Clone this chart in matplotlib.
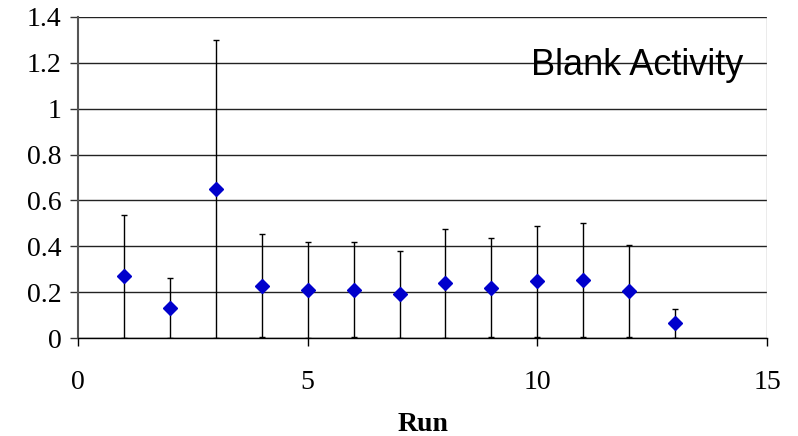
import matplotlib
matplotlib.use("Agg")
import matplotlib.pyplot as plt
from matplotlib.ticker import MultipleLocator, FuncFormatter

runs = [1, 2, 3, 4, 5, 6, 7, 8, 9, 10, 11, 12, 13]
activity = [0.270, 0.132, 0.650, 0.228, 0.209, 0.211, 0.190, 0.239, 0.219, 0.247, 0.253, 0.205, 0.065]
error = [0.268, 0.131, 0.648, 0.224, 0.208, 0.208, 0.188, 0.238, 0.216, 0.243, 0.247, 0.202, 0.063]

fig = plt.figure(figsize=(7.98, 4.36), dpi=100)
ax = fig.add_axes([78 / 798, 1 - 338 / 436, (767 - 78) / 798, (338 - 17) / 436])

ax.set_xlim(0, 15)
ax.set_ylim(0, 1.4)
ax.yaxis.set_major_locator(MultipleLocator(0.2))
ax.xaxis.set_major_locator(MultipleLocator(5))

ax.grid(axis="y", color="#222222", linewidth=1.0, zorder=0)
ax.set_axisbelow(True)

ax.errorbar(runs, activity, yerr=error, fmt="D", color="#0000CC", markersize=7,
            ecolor="black", elinewidth=1.0, capsize=2.5, capthick=1.0, zorder=2.4)

for side in ("top", "right"):
    ax.spines[side].set_visible(False)
ax.spines["left"].set_color("#555555")
ax.spines["left"].set_linewidth(1.5)
ax.spines["bottom"].set_color("black")
ax.spines["bottom"].set_linewidth(1.0)
# right border of the plot area
ax.axvline(15, color="#999999", linewidth=1.0, zorder=1)

ax.tick_params(axis="y", direction="out", length=6, width=1, color="#333333",
               labelsize=20, pad=6)
ax.tick_params(axis="x", direction="out", length=6, width=1, color="black",
               labelsize=20, pad=17)
for lbl in ax.get_xticklabels() + ax.get_yticklabels():
    lbl.set_family("Liberation Serif")

ax.yaxis.set_major_formatter(FuncFormatter(
    lambda v, p: "0" if abs(v) < 1e-9 else ("1" if abs(v - 1) < 1e-9 else f"{v:.1f}")))

ax.set_xlabel("Run", family="Liberation Serif", fontweight="bold", fontsize=20, labelpad=12)

ax.text(14.48, 1.148, "Blank Activity", family="Liberation Sans", fontsize=26,
        ha="right", va="baseline")

fig.savefig("out.png", dpi=100)
